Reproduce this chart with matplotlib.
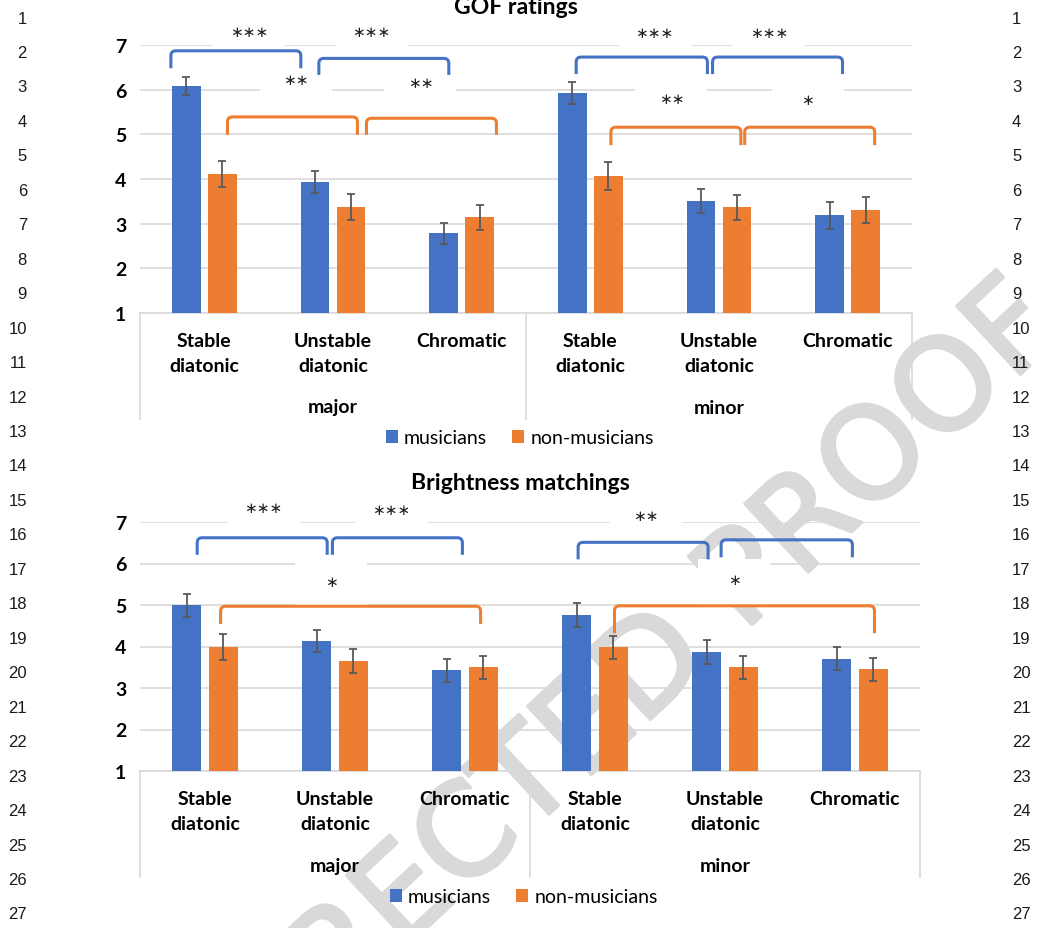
import numpy as np
import matplotlib.pyplot as plt
from matplotlib import transforms
from matplotlib import patheffects
from matplotlib.path import Path
from matplotlib.patches import PathPatch, Rectangle

W, H = 1041, 929

categories = ['Stable\ndiatonic', 'Unstable\ndiatonic', 'Chromatic'] * 2
modes = ['major', 'minor']
groups = ['musicians', 'non-musicians']

# GOF ratings (means and standard errors)
gof_mus = [6.09, 3.93, 2.78, 5.92, 3.51, 3.19]
gof_mus_err = [0.20, 0.25, 0.24, 0.25, 0.26, 0.30]
gof_non = [4.11, 3.38, 3.14, 4.06, 3.37, 3.31]
gof_non_err = [0.29, 0.29, 0.28, 0.31, 0.28, 0.29]

# brightness matchings (means and standard errors)
bright_mus = [4.99, 4.13, 3.43, 4.75, 3.87, 3.71]
bright_mus_err = [0.28, 0.27, 0.28, 0.29, 0.28, 0.28]
bright_non = [3.99, 3.64, 3.50, 3.98, 3.50, 3.45]
bright_non_err = [0.31, 0.29, 0.28, 0.28, 0.28, 0.28]

gof_stars = ['***', '***', '**', '**', '***', '***', '**', '*']
bright_stars = ['***', '***', '*', '**', '*']

BLUE = '#4472C4'
ORANGE = '#ED7D31'
GRID = '#d9d9d9'
FONT = 'Lato'

# bracket layout: x0, x1, top, bottom, colour (data units)
gof_brackets = [
    (-0.26, 0.75, 6.87, 6.48, BLUE), (0.89, 1.90, 6.70, 6.33, BLUE),
    (0.18, 1.19, 5.39, 4.99, ORANGE), (1.26, 2.27, 5.36, 4.99, ORANGE),
    (2.89, 3.91, 6.73, 6.35, BLUE), (3.95, 4.96, 6.73, 6.35, BLUE),
    (3.16, 4.17, 5.16, 4.76, ORANGE), (4.20, 5.21, 5.16, 4.76, ORANGE),
]
gof_star_pos = [(0.35, 7.31), (1.30, 7.31), (0.71, 6.22), (1.68, 6.17),
                (3.50, 7.29), (4.39, 7.29), (3.63, 5.81), (4.69, 5.77)]

bright_brackets = [
    (-0.06, 0.94, 6.62, 6.21, BLUE), (0.98, 1.98, 6.62, 6.21, BLUE),
    (0.12, 2.12, 4.97, 4.54, ORANGE),
    (2.87, 3.87, 6.51, 6.10, BLUE), (3.97, 4.98, 6.57, 6.15, BLUE),
    (3.15, 5.15, 4.98, 4.32, ORANGE),
]
bright_star_pos = [(0.45, 7.35), (1.43, 7.31), (0.97, 5.56),
                   (3.39, 7.16), (4.07, 5.62)]

fig = plt.figure(figsize=(W / 100, H / 100), dpi=100)
fig.patch.set_facecolor('white')


def add_panel(left, top, right, bottom):
    ax = fig.add_axes([left / W, 1 - bottom / H, (right - left) / W, (bottom - top) / H])
    ax.set_facecolor('none')
    return ax


def bracket(ax, x0, x1, top, bottom, color, rx, ry):
    verts = [(x0, bottom), (x0, top - ry), (x0, top), (x0 + rx, top),
             (x1 - rx, top), (x1, top), (x1, top - ry), (x1, bottom)]
    codes = [Path.MOVETO, Path.LINETO, Path.CURVE3, Path.CURVE3,
             Path.LINETO, Path.CURVE3, Path.CURVE3, Path.LINETO]
    ax.add_patch(PathPatch(Path(verts, codes), fill=False, edgecolor=color,
                           lw=2.2, clip_on=False, zorder=5, capstyle='butt'))


def draw_panel(ax, title, title_x, mus, mus_err, non, non_err, brackets, stars, star_pos,
               px_w, px_h, drop, group_y, legend_y):
    x = np.arange(len(categories))
    ppx = px_w / 6.0
    ppy = px_h / 6.0
    bw = 0.225
    off = 0.14
    ekw = dict(ecolor='#595959', elinewidth=1.3, capsize=3, capthick=1.3)
    b1 = ax.bar(x - off, np.array(mus) - 1, bw, bottom=1, color=BLUE, yerr=mus_err,
                error_kw=ekw, zorder=3, label=groups[0])
    b2 = ax.bar(x + off, np.array(non) - 1, bw, bottom=1, color=ORANGE, yerr=non_err,
                error_kw=ekw, zorder=3, label=groups[1])

    ax.set_xlim(-0.5, 5.5)
    ax.set_ylim(1, 7)
    ax.set_yticks(range(1, 8))
    ax.yaxis.grid(True, color=GRID, lw=1.2, zorder=0)
    ax.set_axisbelow(True)
    for s in ['top', 'right', 'left']:
        ax.spines[s].set_visible(False)
    ax.spines['bottom'].set_color(GRID)
    ax.spines['bottom'].set_linewidth(1.2)
    ax.tick_params(length=0)
    ax.tick_params(axis='y', pad=10)
    ax.tick_params(axis='x', pad=14)
    for t in ax.get_yticklabels():
        t.set_fontweight('bold')
        t.set_fontsize(14)
        t.set_fontfamily(FONT)
    ax.set_xticks(x)
    ax.set_xticklabels(categories, fontweight='bold', fontsize=14, family=FONT,
                       linespacing=1.55)

    blend = transforms.blended_transform_factory(ax.transData, ax.transAxes)
    for xs in [-0.5, 2.5, 5.5]:
        ax.plot([xs, xs], [0, -drop], transform=blend, color=GRID, lw=1.2, clip_on=False)
    for i, m in enumerate(modes):
        ax.text(1 + 3 * i, group_y, m, transform=blend, ha='center', va='center',
                fontweight='bold', fontsize=14, family=FONT)

    ax.text(title_x, 1 + 39 / px_h, title, transform=ax.transAxes, ha='center', va='center',
            fontweight='bold', fontsize=16.6, family=FONT)

    rx, ry = 5 / ppx, 5 / ppy
    for x0, x1, top, bot, c in brackets:
        bracket(ax, x0, x1, top, bot, c, rx, ry)

    # white text boxes behind the significance stars
    for s, (sx, sy) in zip(stars, star_pos):
        ax.add_patch(Rectangle((sx - 36 / ppx, sy - 26 / ppy), 72 / ppx, 46 / ppy,
                               facecolor='white', edgecolor='none', zorder=4, clip_on=False))
        ax.text(sx, sy, '\u2217' * len(s), ha='center', va='center', fontsize=11,
                family='DejaVu Sans', color='#222222', zorder=6, clip_on=False)

    leg = ax.legend(handles=[b1, b2], loc='center', bbox_to_anchor=(0.492, legend_y),
                    bbox_transform=ax.transAxes, ncol=2, frameon=False,
                    handlelength=0.62, handleheight=0.62, handletextpad=0.3,
                    columnspacing=1.3, prop=dict(family=FONT, size=14))
    return leg


ax1 = add_panel(140, 46, 912, 314)
draw_panel(ax1, 'GOF ratings', (516 - 140) / 772, gof_mus, gof_mus_err, gof_non, gof_non_err,
           gof_brackets, gof_stars, gof_star_pos, 772, 268,
           drop=106 / 268, group_y=-94 / 268, legend_y=-125 / 268)

ax2 = add_panel(140, 523, 920, 772)
draw_panel(ax2, 'Brightness matchings', (520 - 140) / 780, bright_mus, bright_mus_err,
           bright_non, bright_non_err, bright_brackets, bright_stars, bright_star_pos,
           780, 249, drop=106 / 249, group_y=-95 / 249, legend_y=-126 / 249)

# line numbers in the margins
for k in range(1, 28):
    yy = 1 - (19 + (k - 1) * 34.46) / H
    fig.text(27 / W, yy, str(k), ha='right', va='center', fontsize=12,
             family='Liberation Sans', color='#1a1a1a')
    fig.text(1012 / W, yy, str(k), ha='left', va='center', fontsize=12,
             family='Liberation Sans', color='#1a1a1a')

wm = fig.text(574 / W, 1 - 743 / H, 'CORRECTED PROOF', rotation=43, ha='center', va='center',
              fontsize=92, family='DejaVu Sans', color='#d9d9d9', zorder=-5,
              rotation_mode='anchor')
wm.set_path_effects([patheffects.withStroke(linewidth=2.5, foreground='#d9d9d9')])

fig.savefig('out.png', dpi=100, facecolor='white')
